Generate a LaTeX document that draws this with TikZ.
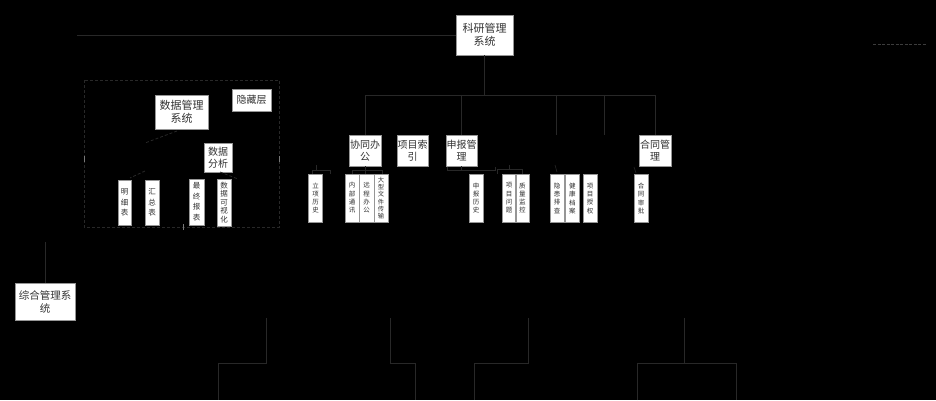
\documentclass[tikz,border=0pt]{standalone}
\usepackage{fontspec}
\newfontfamily\cjk{Noto Sans CJK SC}
\definecolor{linec}{RGB}{40,40,40}
\definecolor{boxline}{RGB}{150,150,150}
\definecolor{txt}{RGB}{50,50,50}
\begin{document}
\begin{tikzpicture}[x=1pt,y=-1pt,
  box/.style={draw=boxline,line width=0.6pt,fill=white,inner sep=0pt,align=center,text=txt,font=\cjk\fontsize{10}{12}\selectfont},
  vbox/.style={box,minimum width=14pt,minimum height=48pt,font=\cjk\fontsize{6.5}{8.3}\selectfont},
  lbox/.style={box,minimum width=14pt,minimum height=45pt,font=\cjk\fontsize{7.5}{10.5}\selectfont},
  conn/.style={draw=linec,line width=0.8pt},
  dconn/.style={draw=linec,line width=0.8pt,dash pattern=on 3pt off 2pt},
  handle/.style={draw={rgb,255:red,120;green,120;blue,120},line width=0.9pt}
]
\fill[black] (0,0) rectangle (936,400);
\useasboundingbox (0,0) rectangle (936,400);

% top node
\node[box,minimum width=57pt,minimum height=40pt,font=\cjk\fontsize{11}{13}\selectfont] (top) at (484.5,35) {科研管理\\系统};
\coordinate (lend) at (77,35);
\draw[conn] (lend) -- (top.west);

% left system
\node[box,minimum width=60pt,minimum height=37pt,font=\cjk\fontsize{10.5}{13}\selectfont] (zh) at (45,301.5) {综合管理系\\统};
\coordinate (zhtop) at (45,242);
\draw[conn] (zhtop) -- (zh.north);

% dashed panel
\draw[dconn] (84,80) rectangle (279,227);
\coordinate (hl) at (84,159);
\coordinate (hr) at (279,159);
\coordinate (hb) at (183,227);
\draw[handle] ([yshift=-3]hl) -- ([yshift=3]hl);
\draw[handle] ([yshift=-3]hr) -- ([yshift=3]hr);
\draw[handle] ([yshift=-3]hb) -- ([yshift=3]hb);

\node[box,minimum width=53pt,minimum height=34pt,font=\cjk\fontsize{11}{13}\selectfont] (sjgl) at (181.5,112) {数据管理\\系统};
\node[box,minimum width=39pt,minimum height=22pt] (ycc) at (251.5,100) {隐藏层};
\node[box,minimum width=28pt,minimum height=29pt] (sjfx) at (218,157.5) {数据\\分析};
\node[lbox,minimum width=13pt] (mxb) at (124.5,202.5) {明\\细\\表};
\node[lbox] (hzb) at (152,202.5) {汇\\总\\表};
\node[lbox,minimum width=15pt,minimum height=46pt] (zzbb) at (196.5,202) {最\\终\\报\\表};
\node[lbox,minimum height=47pt,font=\cjk\fontsize{7.5}{8.6}\selectfont] (sjksh) at (224,202.5) {数\\据\\可\\视\\化};

\coordinate (d1a) at (177,131); \coordinate (d1b) at (145,143);
\coordinate (d2a) at (145,171); \coordinate (d2b) at (130,178);
\coordinate (d3a) at (220,172); \coordinate (d3b) at (238,179);
\draw[dconn] (d1a) -- (d1b);
\draw[dconn] (d2a) -- (d2b);
\draw[dconn] (d3a) -- (d3b);

% level 2
\node[box,minimum width=32pt,minimum height=31pt] (xt) at (365,150.5) {协同办\\公};
\node[box,minimum width=31pt,minimum height=31pt] (xm) at (412.5,150.5) {项目索\\引};
\node[box,minimum width=31pt,minimum height=31pt] (sb) at (461.5,150.5) {申报管\\理};
\node[box,minimum width=32pt,minimum height=31pt] (ht) at (655,150.5) {合同管\\理};

% bus
\coordinate (bus) at (484.5,95);
\coordinate (busL) at (365,95);
\coordinate (busR) at (655,95);
\coordinate (b3) at (461.5,95);
\coordinate (b4) at (556,95);
\coordinate (b5) at (604,95);
\coordinate (e4) at (556,135);
\coordinate (e5) at (604,135);
\draw[conn] (top.south) -- (bus);
\draw[conn] (busL) -- (busR);
\draw[conn] (busL) -- (xt.north);
\draw[conn] (b3) -- (sb.north);
\draw[conn] (b4) -- (e4);
\draw[conn] (b5) -- (e5);
\draw[conn] (busR) -- (ht.north);

% level 3
\node[vbox] (lx) at (315.7,198) {立\\项\\历\\史};
\node[vbox] (nb) at (352,198) {内\\部\\通\\讯};
\node[vbox,minimum width=15pt] (yc) at (366.5,198) {远\\程\\办\\公};
\node[vbox,font=\cjk\fontsize{6.3}{7.3}\selectfont] (dx) at (381,198) {大\\型\\文\\件\\传\\输};
\node[vbox] (sbls) at (476,198) {申\\报\\历\\史};
\node[vbox,minimum width=13pt] (xmwt) at (509.2,198) {项\\目\\问\\题};
\node[vbox,minimum width=13pt] (zljk) at (522.3,198) {质\\量\\监\\控};
\node[vbox] (yhpc) at (557,198) {隐\\患\\排\\查};
\node[vbox,minimum width=13.5pt] (jkda) at (572.3,198.5) {健\\康\\档\\案};
\node[vbox] (xmsq) at (590,198.5) {项\\目\\授\\权};
\node[vbox] (htsp) at (641,198.5) {合\\同\\审\\批};

% small brackets
\coordinate (s1) at (316,165);
\coordinate (s1j) at (316,170);
\coordinate (s1l) at (312,170);
\coordinate (s1r) at (330,170);
\coordinate (s1rd) at (330,174);
\draw[conn,line width=0.6pt] (s1) -- (s1j);
\draw[conn,line width=0.6pt] (lx.north -| s1l) -- (s1l) -- (s1r) -- (s1rd);

\coordinate (s2j) at (365,170);
\coordinate (s2l) at (352,170);
\coordinate (s2r) at (382,170);
\draw[conn,line width=0.6pt] (xt.south) -- (s2j);
\draw[conn,line width=0.6pt] (nb.north -| s2l) -- (s2l) -- (s2r) -- (dx.north -| s2r);
\draw[conn,line width=0.6pt] (s2j) -- (yc.north -| s2j);

\coordinate (s3j) at (461.5,170);
\coordinate (s3l) at (447,170);
\coordinate (s3r) at (495,170);
\draw[conn,line width=0.6pt] (sb.south) -- (s3j);
\draw[conn,line width=0.6pt] ([yshift=3]s3l) -- (s3l) -- (s3r) -- ([yshift=3]s3r);
\draw[conn,line width=0.6pt] (s3j) -- ([yshift=4]s3j);

\coordinate (s4t) at (509,165);
\coordinate (s4j) at (509,169.5);
\coordinate (s4l) at (497,169.5);
\coordinate (s4r) at (522.7,169.5);
\draw[conn,line width=0.6pt] (s4t) -- (s4j);
\draw[conn,line width=0.6pt] (xmwt.north -| s4l) -- (s4l) -- (s4r) -- (zljk.north -| s4r);

\coordinate (s5a) at (555,165); \coordinate (s5b) at (557,172);
\draw[conn,line width=0.6pt] (s5a) -- (s5b);
\coordinate (s6a) at (634,167); \coordinate (s6b) at (636,173);
\draw[conn,line width=0.6pt] (s6a) -- (s6b);

% right dashed line
\coordinate (ra) at (873,44.5);
\coordinate (rb) at (926,44.5);
\draw[draw={rgb,255:red,60;green,60;blue,60},line width=0.8pt,dash pattern=on 3pt off 1.5pt] (ra) -- (rb);

% bottom connectors
\coordinate (p1t) at (266,318); \coordinate (p1m) at (266,363);
\coordinate (p1l) at (218.5,363); \coordinate (p1b) at (218.5,400);
\draw[conn] (p1t) -- (p1m) -- (p1l) -- (p1b);

\coordinate (p2t) at (390,318); \coordinate (p2m) at (390,363);
\coordinate (p2r) at (415,363); \coordinate (p2b) at (415,400);
\draw[conn] (p2t) -- (p2m) -- (p2r) -- (p2b);

\coordinate (p3t) at (528,318); \coordinate (p3m) at (528,363);
\coordinate (p3l) at (474.6,363); \coordinate (p3b) at (474.6,400);
\draw[conn] (p3t) -- (p3m) -- (p3l) -- (p3b);

\coordinate (p4t) at (684.8,318); \coordinate (p4m) at (684.8,363);
\coordinate (p4l) at (637.6,363); \coordinate (p4r) at (736,363);
\coordinate (p4lb) at (637.6,400); \coordinate (p4rb) at (736,400);
\draw[conn] (p4t) -- (p4m);
\draw[conn] (p4lb) -- (p4l) -- (p4r) -- (p4rb);
\end{tikzpicture}
\end{document}
